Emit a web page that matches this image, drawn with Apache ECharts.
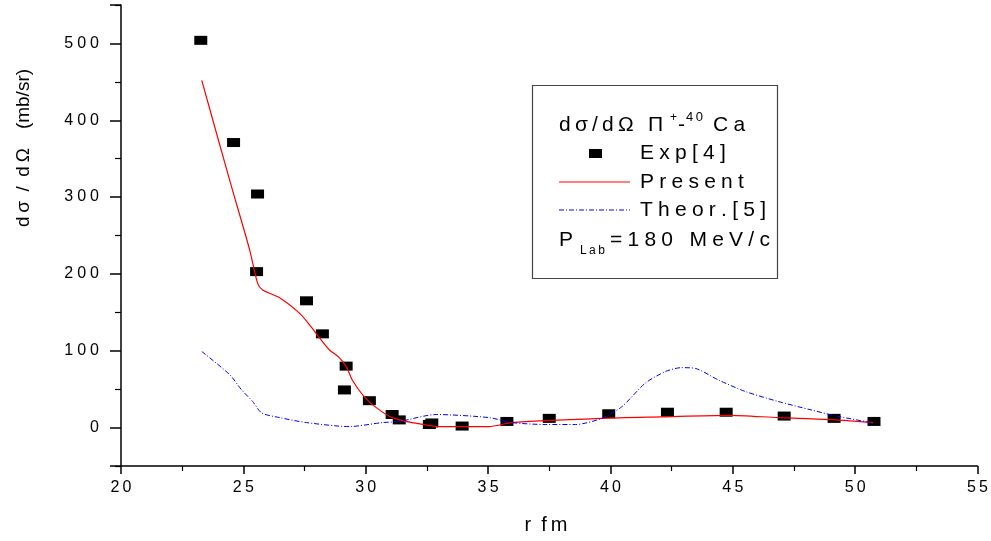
<!DOCTYPE html>
<html>
<head>
<meta charset="utf-8">
<script src="https://cdn.jsdelivr.net/npm/echarts@6/dist/echarts.min.js"></script>
<style>html,body{margin:0;padding:0;background:#fff;}#c{width:991px;height:541px;}</style>
</head>
<body>
<div id="c"></div>
<script>
// ---- data ----
var xTicks = [20, 25, 30, 35, 40, 45, 50, 55];
var yTicks = [0, 100, 200, 300, 400, 500];

var expX = [23.26, 24.6, 25.58, 25.54, 27.58, 28.23, 29.2, 29.13, 30.15, 31.08, 31.37, 32.6, 32.7, 33.94, 35.77, 37.5, 39.93, 42.33, 44.73, 47.1, 49.14, 50.77];
var expY = [504, 371, 304, 203, 165, 122, 80, 49, 35, 17, 10, 4, 6, 2, 8, 12, 18, 20, 20, 15, 12, 8];

var presX = [23.3, 24.44, 25.26, 25.58, 25.79, 26.48, 27.29, 27.7, 28.11, 28.52, 28.92, 29.21, 29.45, 29.94, 30.43, 31.08, 31.9, 33.0, 35.04, 35.97, 39.64, 42.09, 44.82, 46.85, 49.18, 50.73];
var presY = [452, 322, 231, 188, 179, 169, 149, 134, 117, 101, 91, 79, 62, 40, 26, 13, 6.5, 1.3, 1.3, 6.5, 12, 14, 16, 13, 10, 6.5];

var theoX = [23.3, 24.44, 24.93, 25.38, 25.75, 26.48, 27.58, 29.33, 30.68, 31.37, 32.88, 35.04, 35.97, 37.36, 38.58, 39.64, 40.46, 41.43, 42.25, 42.9, 43.47, 44.41, 45.51, 46.85, 48.2, 49.1, 50.64];
var theoY = [99, 69, 49, 34, 19, 13, 6.5, 1.3, 6.5, 8, 17, 13, 6.5, 4, 4, 12, 27, 58, 73, 78, 77, 62, 47, 34, 23, 16, 6.5];

function zip(a, b) { return a.map(function (v, i) { return [v, b[i]]; }); }
function sp(s, g) { return s.split('').join(g || '\u2005'); }

var FONT = "'Liberation Sans', Arial, sans-serif";
var chart = echarts.init(document.getElementById('c'), null, {renderer: 'canvas'});

var lf = 21; // legend font size
function txt(x, y, s, size, extra) {
  var o = {type: 'text', x: x, y: y, z: 100,
    style: {text: s, fontFamily: FONT, fontSize: size, fill: '#000', textVerticalAlign: 'middle', verticalAlign: 'middle'}};
  if (extra) for (var k in extra) o.style[k] = extra[k];
  return o;
}

var option = {
  backgroundColor: '#fff',
  animation: false,
  grid: {left: 121, right: 11, top: 5, bottom: 75, containLabel: false},
  xAxis: {
    type: 'value', min: 20, max: 55, interval: 5,
    axisLine: {show: true, onZero: false, lineStyle: {color: '#000', width: 1.5}},
    axisTick: {show: true, length: 8, lineStyle: {color: '#000', width: 1.5}},
    minorTick: {show: true, splitNumber: 2, length: 5, lineStyle: {color: '#000', width: 1.2}},
    splitLine: {show: false},
    axisLabel: {margin: 14, fontFamily: FONT, fontSize: 16, color: '#000',
      formatter: function (v) { return xTicks.indexOf(v) >= 0 ? sp(String(v), '\u2009') : ''; }}
  },
  yAxis: [{
    type: 'value', min: -50, max: 550, splitNumber: 6,
    axisLine: {show: true, onZero: false, lineStyle: {color: '#000', width: 1.5}},
    axisTick: {show: true, length: 11, lineStyle: {color: '#000', width: 1.5}},
    splitLine: {show: false},
    axisLabel: {margin: 22, fontFamily: FONT, fontSize: 16, color: '#000',
      formatter: function (v) { return yTicks.indexOf(v) >= 0 ? sp(String(v), '\u2005') : ''; }}
  }, {
    type: 'value', min: -50, max: 550, interval: 100, position: 'left', offset: 0,
    axisLine: {show: false},
    axisTick: {show: true, length: 6, lineStyle: {color: '#000', width: 1.2}},
    axisLabel: {show: false},
    splitLine: {show: false}
  }],
  series: [{
    name: 'Exp[4]', type: 'scatter', yAxisIndex: 0, z: 2,
    symbol: 'rect', symbolSize: [13, 9],
    itemStyle: {color: '#000', opacity: 1},
    data: zip(expX, expY)
  }, {
    name: 'Present', type: 'line', yAxisIndex: 0, z: 3,
    symbol: 'none', smooth: 0.25,
    lineStyle: {color: '#ff0000', width: 1.2},
    data: zip(presX, presY)
  }, {
    name: 'Theor.[5]', type: 'line', yAxisIndex: 0, z: 3,
    symbol: 'none', smooth: 0.25,
    lineStyle: {color: '#0000ff', width: 1, type: [5, 2, 1, 2]},
    data: zip(theoX, theoY)
  }],
  graphic: [
    {type: 'rect', z: 99, shape: {x: 532.5, y: 85.5, width: 245, height: 193},
      style: {fill: '#fff', stroke: '#444', lineWidth: 1.2}},
    // title
    txt(559, 125, sp('dσ/dΩ', '\u2009'), lf),
    txt(648, 125, 'Π', lf),
    txt(670, 118, '+', 12),
    txt(678, 125, '-', lf),
    txt(686, 117, sp('40', '\u2009'), 13),
    txt(713, 125, sp('Ca'), lf),
    // legend items
    {type: 'rect', z: 100, shape: {x: 589, y: 149, width: 13, height: 9}, style: {fill: '#000'}},
    txt(640, 153, sp('Exp[4]'), lf),
    {type: 'line', z: 100, shape: {x1: 559, y1: 182, x2: 630, y2: 182}, style: {stroke: '#ff0000', lineWidth: 1.2}},
    txt(640, 182, sp('Present'), lf),
    {type: 'line', z: 100, shape: {x1: 559, y1: 210, x2: 630, y2: 210}, style: {stroke: '#0000ff', lineWidth: 1, lineDash: [5, 2, 1, 2]}},
    txt(640, 210, sp('Theor.[5]'), lf),
    txt(559, 240, 'P', lf),
    txt(580, 251, sp('Lab', '\u2009'), 12),
    txt(610, 240, sp('=180 MeV/c'), lf),
    // axis names
    txt(546, 525, 'r\u2005\u2005f\u2009m', 20, {align: 'center', textAlign: 'center'}),
    {type: 'text', x: 24, y: 148, rotation: Math.PI / 2, z: 100,
      style: {text: 'd\u2009σ\u2005\u2005/\u2005\u2005d\u2009Ω\u2005\u2005\u2005\u2005(mb/sr)', fontFamily: FONT, fontSize: 19, fill: '#000',
        align: 'center', textAlign: 'center', verticalAlign: 'middle', textVerticalAlign: 'middle'}}
  ]
};
chart.setOption(option);
</script>
</body>
</html>
